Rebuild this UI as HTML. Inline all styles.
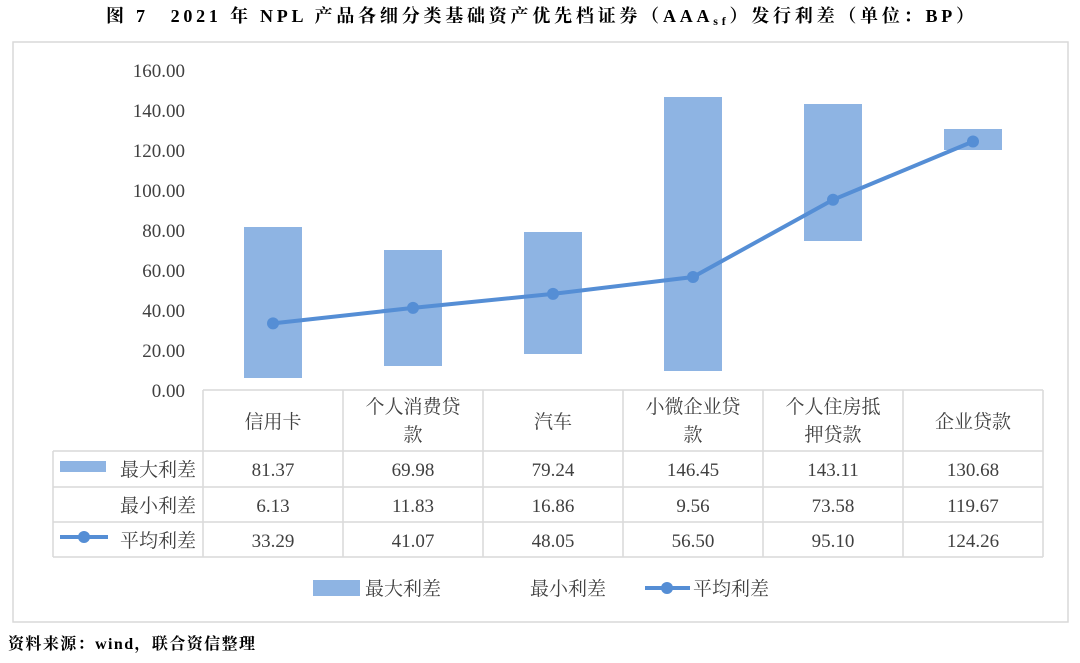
<!DOCTYPE html><html><head><meta charset="utf-8"><style>body{margin:0;background:#fff}</style></head><body>
<svg width="1080" height="658" xmlns="http://www.w3.org/2000/svg" font-family="Liberation Serif, Noto Serif CJK SC, serif">
<text x="106" y="22" font-size="18" font-weight="bold" fill="#000" textLength="868" lengthAdjust="spacing">图 7　2021 年 NPL 产品各细分类基础资产优先档证券（AAA<tspan font-size="12" dy="3">sf</tspan><tspan dy="-3">）发行利差（单位：BP）</tspan></text>
<rect x="13" y="42" width="1055" height="580" fill="none" stroke="#d9d9d9" stroke-width="1.5"/>
<g font-size="19" fill="#404040" text-anchor="end">
<text x="185" y="77">160.00</text><text x="185" y="117">140.00</text><text x="185" y="157">120.00</text><text x="185" y="197">100.00</text><text x="185" y="237">80.00</text><text x="185" y="277">60.00</text><text x="185" y="317">40.00</text><text x="185" y="357">20.00</text><text x="185" y="397">0.00</text>
</g>
<g fill="#8eb4e3">
<rect x="244" y="227" width="58" height="151"/>
<rect x="384" y="250" width="58" height="116"/>
<rect x="524" y="232" width="58" height="122"/>
<rect x="664" y="97" width="58" height="274"/>
<rect x="804" y="104" width="58" height="137"/>
<rect x="944" y="129" width="58" height="21"/>
</g>
<polyline points="273,323.4 413,307.9 553,293.9 693,277 833,199.8 973,141.5" fill="none" stroke="#558ed5" stroke-width="4"/>
<g fill="#558ed5"><circle cx="273" cy="323.4" r="6"/><circle cx="413" cy="307.9" r="6"/><circle cx="553" cy="293.9" r="6"/><circle cx="693" cy="277" r="6"/><circle cx="833" cy="199.8" r="6"/><circle cx="973" cy="141.5" r="6"/></g>
<g stroke="#d9d9d9" stroke-width="1.5" fill="none">
<line x1="203" y1="390" x2="1043" y2="390"/>
<line x1="53" y1="451" x2="1043" y2="451"/>
<line x1="53" y1="487" x2="1043" y2="487"/>
<line x1="53" y1="522" x2="1043" y2="522"/>
<line x1="53" y1="557" x2="1043" y2="557"/>
<line x1="53" y1="451" x2="53" y2="557"/>
<line x1="203" y1="390" x2="203" y2="557"/><line x1="343" y1="390" x2="343" y2="557"/><line x1="483" y1="390" x2="483" y2="557"/><line x1="623" y1="390" x2="623" y2="557"/><line x1="763" y1="390" x2="763" y2="557"/><line x1="903" y1="390" x2="903" y2="557"/><line x1="1043" y1="390" x2="1043" y2="557"/>
</g>
<g font-size="19" fill="#404040" text-anchor="middle">
<text x="273" y="428">信用卡</text>
<text x="413" y="413">个人消费贷</text><text x="413" y="441">款</text>
<text x="553" y="428">汽车</text>
<text x="693" y="413">小微企业贷</text><text x="693" y="441">款</text>
<text x="833" y="413">个人住房抵</text><text x="833" y="441">押贷款</text>
<text x="973" y="428">企业贷款</text>
<text x="273" y="476">81.37</text><text x="413" y="476">69.98</text><text x="553" y="476">79.24</text><text x="693" y="476">146.45</text><text x="833" y="476">143.11</text><text x="973" y="476">130.68</text>
<text x="273" y="512">6.13</text><text x="413" y="512">11.83</text><text x="553" y="512">16.86</text><text x="693" y="512">9.56</text><text x="833" y="512">73.58</text><text x="973" y="512">119.67</text>
<text x="273" y="547">33.29</text><text x="413" y="547">41.07</text><text x="553" y="547">48.05</text><text x="693" y="547">56.50</text><text x="833" y="547">95.10</text><text x="973" y="547">124.26</text>
</g>
<g font-size="19" fill="#404040" text-anchor="end">
<text x="196" y="476">最大利差</text><text x="196" y="512">最小利差</text><text x="196" y="547">平均利差</text>
</g>
<rect x="60" y="461" width="46" height="11" fill="#8eb4e3"/>
<line x1="60" y1="537" x2="108" y2="537" stroke="#558ed5" stroke-width="4"/><circle cx="84" cy="537" r="6" fill="#558ed5"/>
<rect x="313" y="580" width="47" height="16" fill="#8eb4e3"/>
<g font-size="19" fill="#404040"><text x="365" y="595">最大利差</text><text x="530" y="595">最小利差</text><text x="693" y="595">平均利差</text></g>
<line x1="645" y1="588" x2="690" y2="588" stroke="#558ed5" stroke-width="4"/><circle cx="667" cy="588" r="6" fill="#558ed5"/>
<text x="8" y="649" font-size="16" font-weight="bold" fill="#000" textLength="247" lengthAdjust="spacing">资料来源：wind，联合资信整理</text>
</svg>
</body></html>
